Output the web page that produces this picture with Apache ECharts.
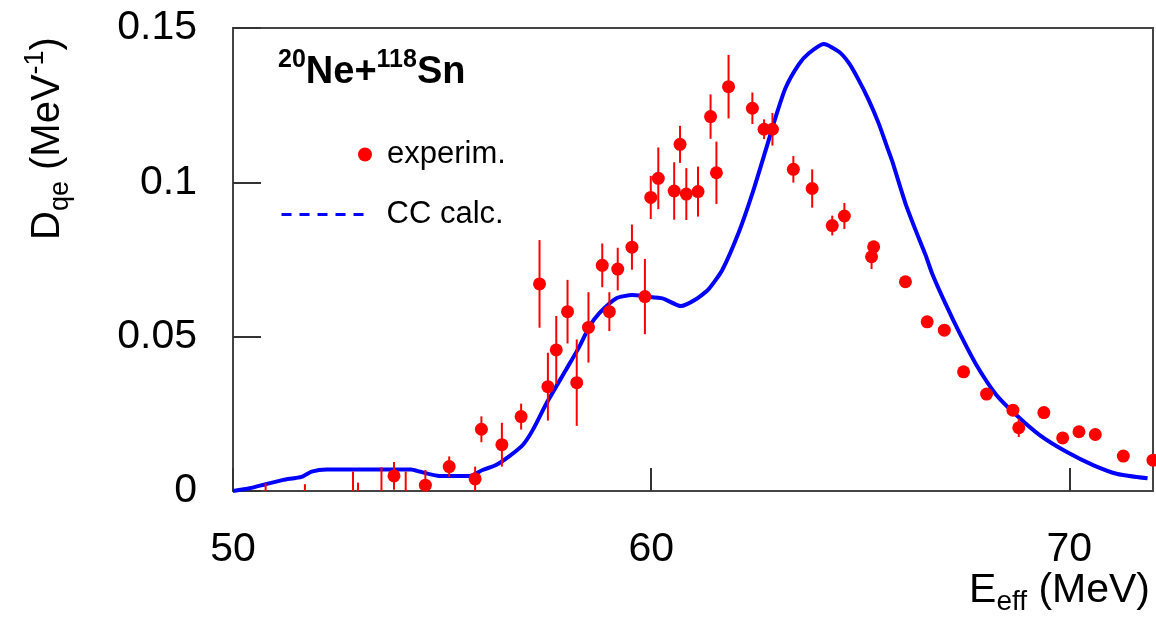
<!DOCTYPE html>
<html>
<head>
<meta charset="utf-8">
<script src="https://cdn.jsdelivr.net/npm/echarts@6/dist/echarts.min.js"></script>
<style>
html,body{margin:0;padding:0;background:#fff;}
#c{width:1156px;height:623px;}
</style>
</head>
<body>
<div id="c"></div>
<script>
// ---- data ----
const expX = [50.78, 51.72, 52.87, 52.99, 53.55, 54.13,
  53.85, 54.60, 55.17, 55.79, 55.94, 56.43, 56.89, 57.33, 57.53, 57.73, 58.00, 58.22, 58.50, 58.83,
  59.00, 59.20, 59.54, 59.85, 59.99, 60.17, 60.55, 60.69, 60.84, 61.12, 61.42, 61.56, 61.85, 62.42,
  62.70, 62.90, 63.40, 63.85, 64.33, 64.62, 65.27, 65.32, 66.08, 66.60, 67.01, 67.47, 68.02, 68.65,
  68.79, 69.39, 69.84, 70.23, 70.62, 71.29, 72.00];
const expY = [-0.004, -0.004, -0.003, -0.004, -0.003, -0.003,
  0.0049, 0.0019, 0.0079, 0.0039, 0.0200, 0.0150, 0.0241, 0.0671, 0.0338, 0.0457, 0.0581, 0.0351, 0.0530, 0.0731,
  0.0581, 0.0719, 0.0790, 0.0630, 0.0951, 0.1013, 0.0972, 0.1123, 0.0962, 0.0970, 0.1213, 0.1031, 0.1310, 0.1240,
  0.1172, 0.1172, 0.1042, 0.0980, 0.0860, 0.0891, 0.0759, 0.0791, 0.0678, 0.0548, 0.0521, 0.0386, 0.0314, 0.0262,
  0.0205, 0.0254, 0.0172, 0.0192, 0.0183, 0.0113, 0.0100];
const expErr = [0.0065, 0.0062, 0.0093, 0.0067, 0.0107, 0.0093,
  0.0045, 0.0049, 0.0033, 0.0040, 0.0042, 0.0071, 0.0042, 0.0142, 0.0110, 0.0110, 0.0103, 0.0140, 0.0114, 0.0071,
  0.0063, 0.0069, 0.0073, 0.0122, 0.0070, 0.0100, 0.0093, 0.0060, 0.0084, 0.0081, 0.0072, 0.0101, 0.0103, 0.0051,
  0.0032, 0.0053, 0.0043, 0.0062, 0.0032, 0.0042, 0.0040, 0.0015, 0, 0, 0, 0, 0, 0,
  0.0030, 0, 0, 0, 0, 0, 0];

const ccX = [50.00, 50.40, 50.78, 51.20, 51.64, 51.88, 52.24, 53.00, 54.26, 54.46, 54.94, 55.66, 55.97, 56.29,
  56.61, 56.93, 57.17, 57.50, 57.96, 58.28, 58.52, 58.76, 59.16, 59.55, 59.87, 60.27, 60.71, 61.07, 61.38,
  61.70, 62.10, 62.42, 62.74, 62.98, 63.21, 63.53, 63.77, 64.13, 64.49, 64.73, 64.96, 65.20, 65.44, 65.64,
  65.76, 66.08, 66.32, 66.56, 66.72, 67.04, 67.37, 67.77, 68.25, 68.73, 69.29, 69.94, 70.58, 71.15, 71.87];
const ccY = [0.0000, 0.0009, 0.0022, 0.0036, 0.0046, 0.0063, 0.0070, 0.0070, 0.0070, 0.0063, 0.0049, 0.0049, 0.0068, 0.0084,
  0.0113, 0.0149, 0.0198, 0.0285, 0.0392, 0.0467, 0.0532, 0.0576, 0.0624, 0.0635, 0.0630, 0.0624, 0.0599, 0.0621, 0.0655,
  0.0716, 0.0840, 0.0964, 0.1105, 0.1213, 0.1305, 0.1382, 0.1418, 0.1448, 0.1423, 0.1386, 0.1332, 0.1267, 0.1191, 0.1115,
  0.1070, 0.0932, 0.0846, 0.0765, 0.0704, 0.0606, 0.0513, 0.0410, 0.0312, 0.0246, 0.0181, 0.0126, 0.0083, 0.0055, 0.0041];

const xTickValues = [50, 60, 70];
const yTickValues = [0, 0.05, 0.1, 0.15];
const seriesNames = ['experim.', 'CC calc.'];

// ---- build ----
const FONT = 'Liberation Sans, Arial, Helvetica, sans-serif';
const RED = '#ff0000', BLUE = '#0000ff';
const expData = expX.map((x, i) => [x, expY[i], expErr[i]]);
const ccData = ccX.map((x, i) => [x, ccY[i]]);

const chart = echarts.init(document.getElementById('c'), null, {renderer: 'canvas'});
chart.setOption({
  animation: false,
  backgroundColor: '#fff',
  grid: {left: 233, top: 28, right: 3, bottom: 132, show: true, borderColor: '#444', borderWidth: 2, backgroundColor: 'transparent'},
  xAxis: {
    type: 'value', min: 50, max: 72, interval: 10,
    axisLine: {show: false},
    splitLine: {show: false},
    axisTick: {show: true, inside: true, length: 23, lineStyle: {color: '#333', width: 2}},
    axisLabel: {
      show: true, margin: 38, fontSize: 41, fontFamily: FONT, color: '#000',
      showMaxLabel: false,
      formatter: v => xTickValues.includes(v) ? String(v) : ''
    }
  },
  yAxis: {
    type: 'value', min: 0, max: 0.15, interval: 0.05,
    axisLine: {show: false},
    splitLine: {show: false},
    axisTick: {show: true, inside: true, length: 28, lineStyle: {color: '#333', width: 2}},
    axisLabel: {
      show: true, margin: 36, fontSize: 41, fontFamily: FONT, color: '#000',
      formatter: v => {
        const r = Math.round(v * 100) / 100;
        const t = yTickValues.find(k => Math.abs(k - r) < 1e-9);
        return t === undefined ? '' : String(t);
      }
    }
  },
  legend: [
    {
      data: [{name: seriesNames[0], icon: 'circle'}],
      left: 353, top: 134, orient: 'vertical',
      itemWidth: 14, itemHeight: 14,
      selectedMode: false,
      formatter: n => '{t|' + n + '}',
      textStyle: {rich: {t: {fontSize: 31, fontFamily: FONT, color: '#000', padding: [0, 0, 0, 10]}}}
    },
    {
      data: [{name: seriesNames[1], itemStyle: {opacity: 0}, lineStyle: {type: [10, 8], width: 3, color: BLUE}}],
      left: 275, top: 194, orient: 'vertical',
      itemWidth: 85, itemHeight: 14,
      selectedMode: false,
      formatter: n => '{t|' + n + '}',
      textStyle: {rich: {t: {fontSize: 31, fontFamily: FONT, color: '#000', padding: [0, 0, 0, 15]}}}
    }
  ],
  graphic: [
    {
      type: 'text', left: 278, top: 48, z: 10,
      style: {
        text: '{s|20}{b|Ne+}{s|118}{b|Sn}',
        rich: {
          s: {fontSize: 25, fontFamily: FONT, fontWeight: 'bold', fill: '#000', verticalAlign: 'top', lineHeight: 44},
          b: {fontSize: 38, fontFamily: FONT, fontWeight: 'bold', fill: '#000', verticalAlign: 'bottom', lineHeight: 44}
        }
      }
    },
    {
      type: 'text', x: 22, y: 240, rotation: Math.PI / 2, z: 10,
      style: {
        text: '{m|D}{sub|qe}{m| (MeV}{sup|-1}{m|)}',
        rich: {
          m: {fontSize: 40, fontFamily: FONT, fill: '#000', verticalAlign: 'middle', lineHeight: 52},
          sub: {fontSize: 27, fontFamily: FONT, fill: '#000', verticalAlign: 'bottom', lineHeight: 52},
          sup: {fontSize: 27, fontFamily: FONT, fill: '#000', verticalAlign: 'top', lineHeight: 52}
        }
      }
    },
    {
      type: 'text', right: 6, top: 570, z: 10,
      style: {
        text: '{m|E}{sub|eff}{m| (MeV)}',
        rich: {
          m: {fontSize: 41, fontFamily: FONT, fill: '#000', verticalAlign: 'middle', lineHeight: 52},
          sub: {fontSize: 28, fontFamily: FONT, fill: '#000', verticalAlign: 'bottom', lineHeight: 52}
        }
      }
    }
  ],
  series: [
    {
      name: seriesNames[1], type: 'line', data: ccData,
      showSymbol: false, symbol: 'none', smooth: 0.2,
      lineStyle: {color: BLUE, width: 4}, itemStyle: {color: BLUE},
      clip: true, z: 2
    },
    {
      name: 'err', type: 'custom', data: expData, clip: true, z: 3,
      encode: {x: 0, y: 1},
      renderItem: (params, api) => {
        const x = api.value(0), y = api.value(1), e = api.value(2);
        if (!e) return null;
        const a = api.coord([x, y + e]);
        const b = api.coord([x, y - e]);
        return {type: 'line', shape: {x1: a[0], y1: a[1], x2: b[0], y2: b[1]}, style: {stroke: RED, lineWidth: 2}};
      }
    },
    {
      name: seriesNames[0], type: 'scatter', data: expData.map(d => [d[0], d[1]]),
      symbol: 'circle', symbolSize: 13, itemStyle: {color: RED, opacity: 1},
      clip: true, z: 4
    }
  ]
});
</script>
</body>
</html>
